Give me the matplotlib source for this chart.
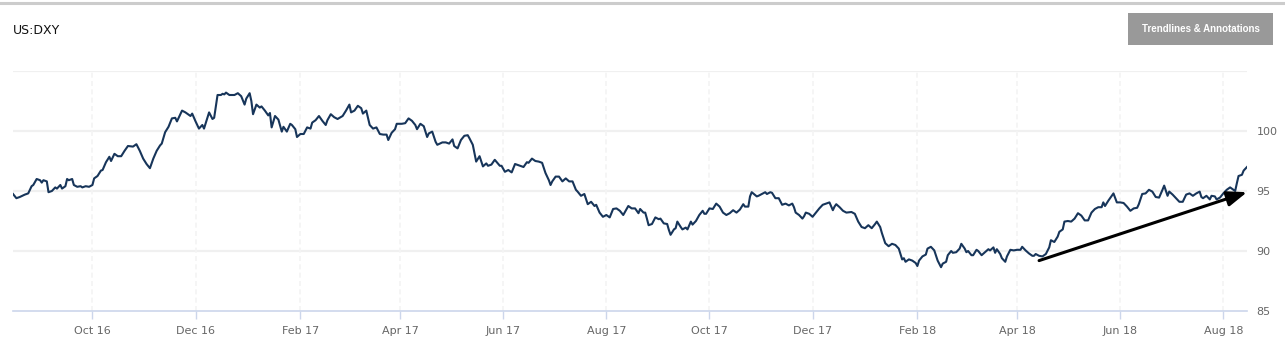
import matplotlib
matplotlib.use("Agg")
import matplotlib.pyplot as plt
import matplotlib.dates as mdates
from matplotlib.patches import Rectangle
from matplotlib.lines import Line2D
import pandas as pd

# ---- data ----
title = "US:DXY"
button_label = "Trendlines & Annotations"
start_date = "2016-08-15"
end_date = "2018-08-15"
# days since start_date
days = [0, 2, 4, 7, 9, 11, 12, 14, 16, 17, 18, 20, 21, 23, 25, 26, 28, 29, 31, 32, 33, 35, 36, 38, 40, 41, 43, 45, 47,
        48, 50, 52, 53, 55, 57, 58, 60, 62, 64, 66, 68, 71, 73, 75, 77, 79, 81, 83, 85, 87, 88, 90, 92, 94, 96, 97,
        100, 102, 105, 106, 108, 110, 112, 113, 116, 118, 119, 121, 123, 124, 125,
        126, 128, 131, 133, 135, 137, 138, 140, 141, 142, 144, 146, 147, 149, 151, 152, 153, 155, 157, 159, 160, 162,
        164, 165, 167, 168, 170, 172, 174, 176, 177, 179, 181, 183, 185, 186, 188, 190, 192, 195, 197, 199, 200, 202,
        204, 206, 207, 209, 211, 213, 215, 217, 219, 221, 222, 224, 226, 227, 230, 232, 234, 236, 238, 239, 241, 243,
        245, 246, 248,
        250, 251, 254, 256, 258, 260, 261, 263, 265, 267, 269, 270, 272, 274, 276, 278, 280, 281, 283, 285, 288, 289,
        291, 293, 295, 297, 299, 302, 304, 305, 307, 309, 311, 313, 315, 317, 318, 319, 321, 323, 325, 327, 329, 331,
        333, 334, 336, 338, 340, 342, 344, 345, 347, 349, 351, 353, 355, 357, 359, 361, 364, 366, 368, 370, 371, 373,
        374, 375, 376, 378, 380, 382, 383, 385, 387, 388, 389, 391, 392, 393, 395, 396, 398, 399, 401, 402, 404, 406,
        408, 409, 410, 412, 414, 416, 418, 420, 422, 424, 426, 428, 430, 432, 433, 435, 436, 437, 440, 441, 443, 445,
        446, 448, 449, 451, 453, 455, 457, 459, 461, 462, 463, 465, 467, 468, 469, 471, 473, 475, 477, 479, 481, 483,
        485, 486, 487, 489, 491, 493, 496, 498,
        500, 502, 504, 506, 508, 510, 511, 513, 514, 516, 518, 520, 522, 524, 526, 527, 528, 530, 532, 534, 535, 536,
        538, 540, 541, 543, 545, 547, 549, 550, 552, 553, 555, 556, 558, 560, 561, 563, 564, 565, 567, 568, 570, 571,
        573, 575, 577, 578, 580, 581, 582, 584, 585, 587, 588, 590, 592, 594, 596, 597, 599, 601, 603, 604, 605, 607,
        609, 611, 613, 614, 616, 618, 619, 621,
        622, 624, 626, 628, 630, 632, 634, 636, 638, 640, 642, 644, 645, 646, 648, 650, 651, 653, 655, 657, 659, 661,
        663, 665, 666, 668, 670, 672, 674, 676, 678, 680, 681, 683, 684, 686, 688, 690, 692, 694, 696, 698, 700, 702,
        703, 704, 706, 708, 709, 711, 712, 714, 716, 718, 720, 721, 723, 724, 725, 727, 728, 730]
values = [94.75, 94.4, 94.5, 94.7, 94.8, 95.4, 95.5, 96.0, 95.9, 95.7, 95.9, 95.8, 94.9, 95.0, 95.3, 95.2, 95.5, 95.2,
          95.4, 96.0, 95.9, 96.0, 95.5, 95.35, 95.4, 95.3, 95.4, 95.35, 95.5,
          96.05, 96.25, 96.7, 96.75, 97.4, 97.85, 97.5, 98.1, 97.9, 97.9, 98.35, 98.75, 98.7, 98.9, 98.35, 97.7, 97.25,
          96.9, 97.7, 98.35, 98.8, 98.95, 99.9, 100.35, 101.05, 101.1, 100.8,
          101.7, 101.55, 101.25, 101.45, 100.8, 100.2, 100.5, 100.2, 101.55, 101.0, 101.1, 103.0, 103.0, 103.1, 103.05,
          103.2, 103.0, 103.0, 103.15, 102.9, 102.2, 102.7, 103.15, 102.5, 101.4, 102.2, 101.95, 102.05, 101.7, 101.3,
          101.5, 100.3, 101.25, 100.95, 99.95, 100.35, 99.95,
          100.6, 100.5, 100.15, 99.5, 99.75, 99.75, 100.3, 100.2, 100.7, 100.9, 101.25, 100.85, 100.5, 100.9, 101.4,
          101.15, 101.0, 101.25, 101.7, 102.2, 101.55, 101.7,
          102.1, 101.9, 101.45, 101.7, 100.5, 100.2, 100.3, 99.75, 99.7, 99.7, 99.25, 99.85, 100.15, 100.6, 100.6,
          100.65, 101.05, 100.85, 100.5, 100.15, 100.6, 100.4,
          99.5, 99.8, 99.95,
          99.1, 98.85, 99.05, 99.05, 98.95, 99.3, 98.75, 98.55, 99.25, 99.6, 99.65, 99.4, 98.85, 97.45, 97.9, 97.05,
          97.3, 97.1, 97.2, 97.6, 97.1, 97.1,
          96.6, 96.75, 96.55, 97.25, 97.15, 97.0, 97.4, 97.35, 97.7, 97.5, 97.45, 97.35, 96.5, 95.9, 95.5, 95.8, 96.2,
          96.2, 95.8, 96.05, 95.8, 95.8,
          95.1, 94.95, 94.6, 94.75, 93.9, 94.1, 93.75, 93.85, 93.2, 92.85, 93.0, 92.8, 93.5, 93.55, 93.35, 93.0, 93.75,
          93.55, 93.55, 93.15, 93.5, 93.2,
          93.2, 92.7, 92.15, 92.25, 92.8, 92.65, 92.7, 92.3, 92.25, 91.75, 91.35, 91.8, 91.9, 92.45, 92.0, 91.8, 91.95,
          91.8, 92.45, 92.2, 92.5, 93.0,
          93.35, 93.1, 93.1, 93.55, 93.5, 93.95, 93.7, 93.2, 93.0, 93.15, 93.4, 93.2, 93.45, 93.9, 93.7, 93.7, 94.55,
          94.9, 94.55, 94.6, 94.75, 94.9,
          94.75, 94.9, 94.85, 94.4, 94.4, 93.85, 93.95, 93.8, 93.95, 93.65, 93.2, 93.0, 92.7, 92.9, 93.2, 93.1, 92.85,
          93.2, 93.55, 93.85, 93.95, 94.05,
          93.4, 93.7, 93.9, 93.65, 93.35, 93.2, 93.25, 93.1,
          92.45, 92.0, 91.9, 92.15, 91.9, 92.25, 92.45, 92.0, 91.5, 90.65, 90.4, 90.6, 90.5, 90.2, 89.3, 89.4, 89.1,
          89.3, 89.2, 89.0, 88.75, 89.2,
          89.55, 89.7, 90.2, 90.35, 90.05, 89.2, 88.65, 88.95, 89.1, 89.65, 90.0, 89.85, 89.9, 90.2, 90.6, 90.2, 89.9,
          90.0, 89.65, 89.65, 90.1, 90.0,
          89.65, 89.9, 90.15, 90.05, 90.3, 89.85, 90.15, 89.75, 89.4, 89.1, 89.55, 90.1, 90.05, 90.1, 90.1, 90.35,
          90.05, 89.8, 89.6, 89.6, 89.75, 89.6,
          89.55, 89.75, 90.3, 90.9, 90.75, 91.2, 91.6, 91.8,
          92.45, 92.5, 92.45, 92.7, 93.15, 92.95, 92.55, 92.55, 93.2, 93.5, 93.65, 93.65, 94.05, 93.75, 94.2, 94.6,
          94.8, 94.05, 94.05, 94.0, 93.7, 93.35,
          93.55, 93.6, 93.9, 94.75, 94.8, 95.1, 94.95, 94.5, 94.45, 95.1, 95.45, 94.6, 94.95, 94.7, 94.4, 94.1, 94.1,
          94.7, 94.8, 94.6, 94.8, 94.95,
          94.5, 94.4, 94.6, 94.3, 94.6, 94.55, 94.3, 94.45, 94.8, 95.1, 95.3, 95.2, 95.0, 95.65, 96.25, 96.35, 96.7,
          97.0]
y_ticks = [85, 90, 95, 100]
x_tick_dates = ["2016-10-01", "2016-12-01", "2017-02-01", "2017-04-01", "2017-06-01", "2017-08-01",
                "2017-10-01", "2017-12-01", "2018-02-01", "2018-04-01", "2018-06-01", "2018-08-01"]
arrow_start = (607, 89.2)   # (days, value)
arrow_end = (730, 94.9)

# ---- build ----
t0 = pd.Timestamp(start_date)
dates = [t0 + pd.Timedelta(days=d) for d in days]

W, H = 1285, 354
fig = plt.figure(figsize=(W / 100, H / 100), dpi=100)
fig.patch.set_facecolor("white")

ax = fig.add_axes([13 / W, 1 - 311 / H, 1234 / W, 240 / H])
ax.set_facecolor("white")
ax.plot(dates, values, color="#17355a", lw=1.5, solid_joinstyle="round", zorder=3)

ax.set_xlim(t0, pd.Timestamp(end_date))
ax.set_ylim(85, 105)

# horizontal grid
for v in [90, 95, 100, 105]:
    ax.axhline(v, color="#f0f0f0", lw=1.6, zorder=1)
# vertical grid
xt = [pd.Timestamp(s) for s in x_tick_dates]
for d in xt:
    ax.axvline(d, color="#f4f4f4", lw=1.2, ls=(0, (3, 2)), zorder=1)

ax.set_xticks(xt)
ax.xaxis.set_major_formatter(mdates.DateFormatter("%b %y"))
ax.set_yticks(y_ticks)
ax.yaxis.tick_right()
ax.tick_params(axis="y", length=0, pad=7, labelsize=8, labelcolor="#666666")
ax.tick_params(axis="x", length=6, width=1, color="#ccd6eb", pad=5, labelsize=8, labelcolor="#666666")

for s in ["top", "left", "right"]:
    ax.spines[s].set_visible(False)
ax.spines["bottom"].set_color("#ccd6eb")
ax.spines["bottom"].set_linewidth(1.2)

# trend arrow
ax.annotate("", xy=(t0 + pd.Timedelta(days=arrow_end[0]), arrow_end[1]),
            xytext=(t0 + pd.Timedelta(days=arrow_start[0]), arrow_start[1]),
            arrowprops=dict(arrowstyle="-|>,head_length=1.0,head_width=0.38", color="black", lw=2.2,
                            mutation_scale=12, shrinkA=0, shrinkB=0),
            annotation_clip=False, zorder=4)

# top border line
fig.add_artist(Line2D([0, 1], [1 - 2.5 / H, 1 - 2.5 / H], color="#cccccc", lw=2.2))

# title
fig.text(13 / W, 1 - 30 / H, title, fontsize=9, color="#111111", va="center", ha="left")

# button
fig.add_artist(Rectangle((1128 / W, 1 - 45 / H), 145 / W, 32 / H, facecolor="#999999",
                         edgecolor="none", transform=fig.transFigure))
fig.text(1200.5 / W, 1 - 29 / H, button_label, fontsize=7, color="white",
         ha="center", va="center", fontweight="bold", family="Liberation Sans")

fig.savefig("out.png", dpi=100, facecolor="white")
